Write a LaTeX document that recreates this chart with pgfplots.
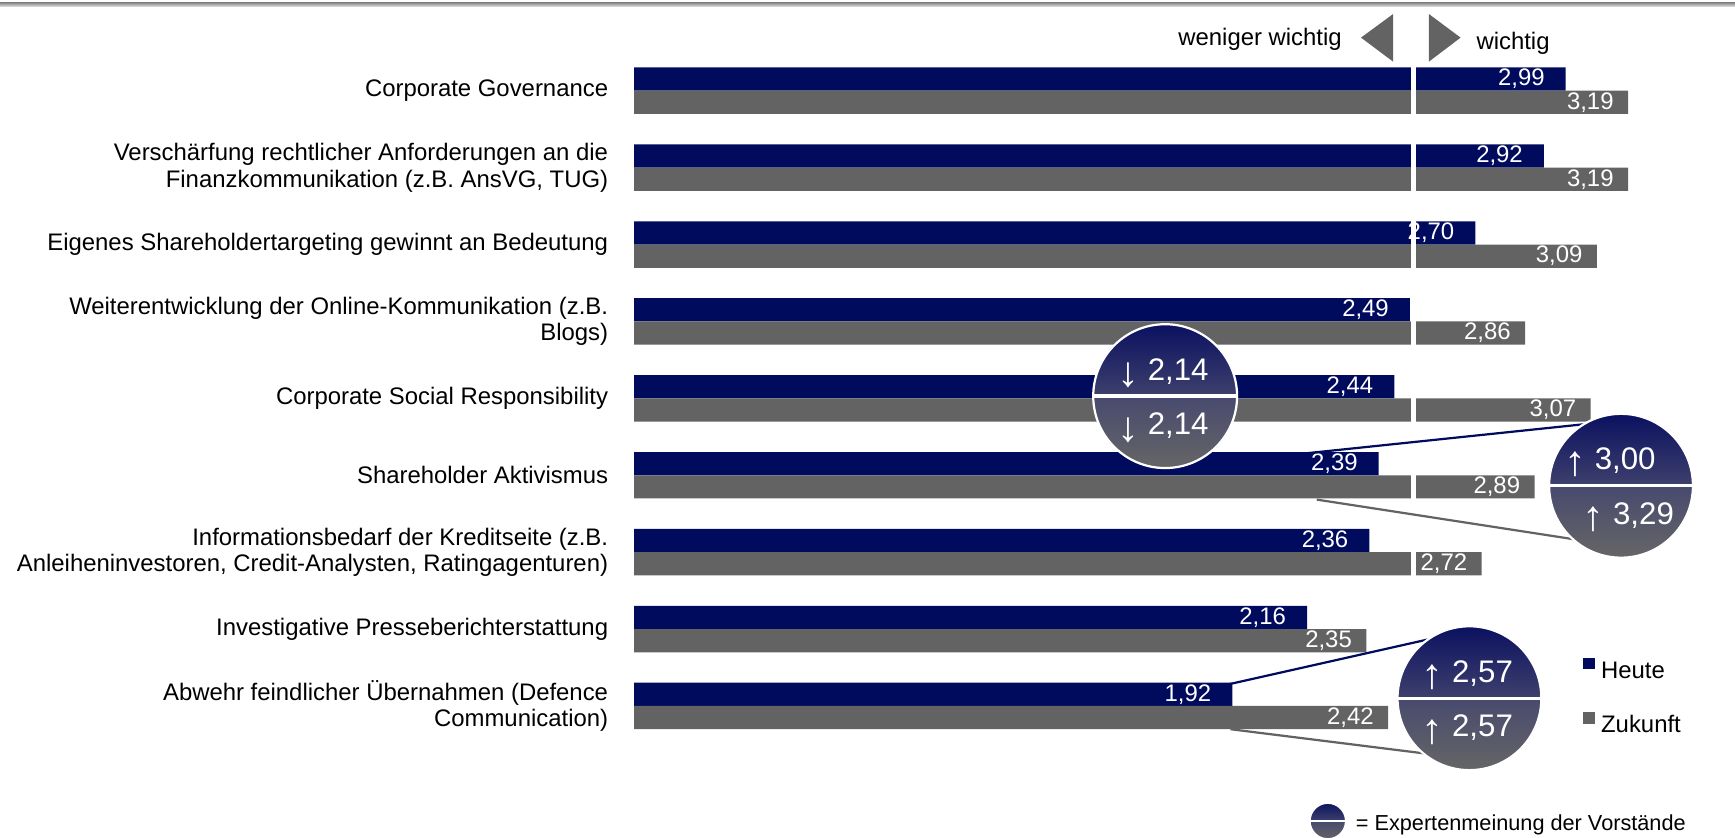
\documentclass[border=0pt]{standalone}
\usepackage{fontspec}
\setmainfont{Liberation Sans}
\usepackage{graphicx}
\usepackage{pgfplots}
\usepackage{pgfplotstable}
\pgfplotsset{compat=1.18}
\usetikzlibrary{calc}

\definecolor{navy}{RGB}{0,11,94}
\definecolor{bgray}{RGB}{99,99,99}
\definecolor{cA}{RGB}{10,16,96}
\definecolor{cB}{RGB}{62,64,108}
\definecolor{cC}{RGB}{72,74,110}
\definecolor{cD}{RGB}{102,102,102}

\newcommand\lblfont{\fontsize{10.8}{12}\selectfont}
\newcommand\circfont{\fontsize{14.1}{16}\selectfont}
\newcommand\dn{\raisebox{-0.2em}{\scalebox{1.4}[1.35]{↓}}}
\newcommand\up{\raisebox{-0.2em}{\scalebox{1.4}[1.35]{↑}}}

% #1 X, #2 Y, #3 radius (all in px, unitless), #4 divider width
\newcommand\expertcircle[4]{%
  \begin{scope}
    \clip (#1,#2) circle[radius=#3];
    \shade[top color=cA, bottom color=cB] (#1-#3-2,#2-#3-1) rectangle (#1+#3+2,#2);
    \shade[top color=cC, bottom color=cD] (#1-#3-2,#2) rectangle (#1+#3+2,#2+#3+1);
    \draw[white, line width=#4] (#1-#3-2,#2) -- (#1+#3+2,#2);
  \end{scope}
  \draw[white, line width=1pt] (#1,#2) circle[radius=#3];
}

\pgfplotstableread{
y heute zukunft
8 2.99 3.19
7 2.92 3.19
6 2.70 3.09
5 2.49 2.86
4 2.44 3.07
3 2.39 2.89
2 2.36 2.72
1 2.16 2.35
0 1.92 2.42
}\data

\begin{document}
\begin{tikzpicture}
\begin{axis}[
  scale only axis, width=497.5pt, height=378.5pt,
  xmin=0, xmax=3.5334, ymin=-1.7122, ymax=9.1799,
  clip=false,
  axis line style={draw=none},
  xtick=\empty,
  ytick={0,...,8},
  yticklabels={
    {Abwehr feindlicher Übernahmen (Defence\\Communication)},
    {Investigative Presseberichterstattung},
    {Informationsbedarf der Kreditseite (z.B.\\Anleiheninvestoren, Credit-Analysten, Ratingagenturen)},
    {Shareholder Aktivismus},
    {Corporate Social Responsibility},
    {Weiterentwicklung der Online-Kommunikation (z.B.\\Blogs)},
    {Eigenes Shareholdertargeting gewinnt an Bedeutung},
    {Verschärfung rechtlicher Anforderungen an die\\Finanzkommunikation (z.B. AnsVG, TUG)},
    {Corporate Governance}},
  y tick label style={font=\lblfont, align=right, inner sep=0pt, xshift=-11.5pt, anchor=east},
  major tick length=0pt, tick align=inside, tick style={draw=none},
  xbar, bar width=10.5pt,
  /pgf/number format/fixed, /pgf/number format/fixed zerofill,
  /pgf/number format/precision=2, /pgf/number format/use comma,
  /pgf/number format/assume math mode=true,
  legend style={draw=none, fill=none, inner sep=0pt, outer sep=0pt,
    at={(axis cs:3.0455,0.63)}, anchor=north west,
    row sep=12.5pt, column sep=2.8pt, font=\lblfont,
    nodes={inner sep=0pt, text height=8pt, text depth=2.5pt}},
  legend cell align=left,
  legend image code/.code={\path[#1] (0pt,1.3pt) rectangle (5.4pt,6.7pt);},
]
\addplot[fill=navy, draw=none, bar shift=5.25pt, point meta=x, nodes near coords,
  every node near coord/.append style={anchor=east, xshift=-6pt, text=white, font=\lblfont}]
  table[x=heute, y=y] {\data};
\addplot[fill=bgray, draw=none, bar shift=-5.25pt, point meta=x, nodes near coords,
  every node near coord/.append style={anchor=east, xshift=-3pt, text=white, font=\lblfont}]
  table[x=zukunft, y=y] {\data};
\legend{Heute, Zukunft}
\draw[white, line width=2.6pt] (axis cs:2.5015,8.35) -- (axis cs:2.5015,1.62);
\end{axis}
\pgfresetboundingbox
\coordinate (O) at ($(current axis.north west)+(-286.5pt,0)$);
\useasboundingbox (O) rectangle ($(O)+(784pt,-378.5pt)$);
\begin{scope}[shift={(O)}, x=0.5pt, y=-0.5pt]
  \shade[top color=black!50, bottom color=black!12] (0,2) rectangle (1568,6);
  \fill[bgray] (1230,34) -- (1259,12.7) -- (1259,55.7) -- cycle;
  \fill[bgray] (1320,34) -- (1291.4,12.7) -- (1291.4,55.7) -- cycle;
  \node[anchor=base east, inner sep=0pt, font=\lblfont] at (1213,41) {weniger wichtig};
  \node[anchor=base west, inner sep=0pt, font=\lblfont] at (1334,45) {wichtig};
  % connector lines
  \draw[navy, line width=1pt] (1182,409.5) -- (1464,380);
  \draw[bgray, line width=1pt] (1190,451.5) -- (1426.6,488);
  \draw[navy, line width=1pt] (1110,618.5) -- (1290,578);
  \draw[bgray, line width=1pt] (1112,659) -- (1288,681);
  % circles
  \expertcircle{1053}{358}{65}{1.5pt}
  \node[anchor=base, inner sep=0pt, text=white, font=\circfont] at (1051,343.5) {\dn\ 2,14};
  \node[anchor=base, inner sep=0pt, text=white, font=\circfont] at (1051,393) {\dn\ 2,14};
  \expertcircle{1465}{439}{65}{1.5pt}
  \node[anchor=base, inner sep=0pt, text=white, font=\circfont] at (1455,424.5) {\up\ 3,00};
  \node[anchor=base, inner sep=0pt, text=white, font=\circfont] at (1471.5,474) {\up\ 3,29};
  \expertcircle{1328}{631}{65}{1.5pt}
  \node[anchor=base, inner sep=0pt, text=white, font=\circfont] at (1326,616.5) {\up\ 2,57};
  \node[anchor=base, inner sep=0pt, text=white, font=\circfont] at (1326,666) {\up\ 2,57};
  % key
  \expertcircle{1200}{742}{16.5}{1pt}
  \node[anchor=base west, inner sep=0pt, font=\fontsize{9.8}{11}\selectfont] at (1225,750.5) {= Expertenmeinung der Vorstände};
\end{scope}
\end{tikzpicture}
\end{document}
